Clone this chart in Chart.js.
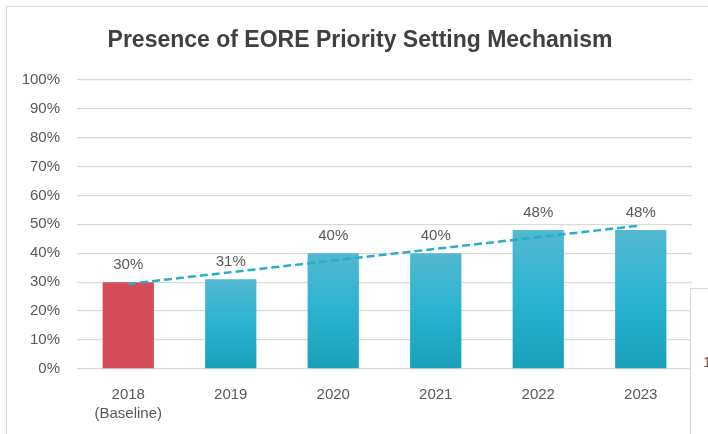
<!DOCTYPE html>
<html>
<head>
<meta charset="utf-8">
<script src="https://cdn.jsdelivr.net/npm/chart.js@4.4.1/dist/chart.umd.min.js"></script>
<style>
  html, body { margin: 0; padding: 0; background: #ffffff; overflow: hidden; width: 708px; height: 434px; }
  #frame { position: absolute; left: 6px; top: 6px; width: 800px; height: 600px; border: 1.5px solid #d9d9d9; box-sizing: border-box; }
  #wrap { position: absolute; left: 0; top: 0; width: 720px; height: 434px; }
  #side { position: absolute; left: 690px; top: 288px; width: 100px; height: 200px; border: 1.5px solid #d9d9d9; background: #fff; box-sizing: border-box; font: 15px "Liberation Sans", Arial, sans-serif; color: #595959; }
  #side span { position: absolute; left: 12px; top: 64px; }
</style>
</head>
<body>
<div id="frame"></div>
<div id="wrap"><canvas id="c" width="720" height="434"></canvas></div>
<div id="side"><span>1</span></div>
<script>
const titleText = 'Presence of EORE Priority Setting Mechanism';
const categories = ['2018', '2019', '2020', '2021', '2022', '2023'];
const subLabels = ['(Baseline)', '', '', '', '', ''];
const values = [30, 31, 40, 40, 48, 48];
const trendValues = [29.4, null, null, null, null, 49.6];
const yTickValues = [0, 10, 20, 30, 40, 50, 60, 70, 80, 90, 100];

const labels = categories.map((c, i) => subLabels[i] ? [c, subLabels[i]] : c);

const RED = '#d44b5a';
function barColor(ctx) {
  const i = ctx.dataIndex;
  if (i === 0) return RED;
  const chart = ctx.chart;
  if (!chart.chartArea || !chart.scales.y) return '#29b2cf';
  const y = chart.scales.y;
  const top = y.getPixelForValue(values[i]);
  const bot = y.getPixelForValue(0);
  const g = chart.ctx.createLinearGradient(0, top, 0, bot);
  g.addColorStop(0, '#52b9d1');
  g.addColorStop(0.5, '#29b3d0');
  g.addColorStop(1, '#18a0ba');
  return g;
}

const labelPlugin = {
  id: 'barLabels',
  afterDatasetsDraw(chart) {
    const meta = chart.getDatasetMeta(0);
    const c = chart.ctx;
    c.save();
    c.font = '15px "Liberation Sans", Arial, sans-serif';
    c.fillStyle = '#595959';
    c.textAlign = 'center';
    c.textBaseline = 'middle';
    meta.data.forEach((bar, i) => {
      c.fillText(values[i] + '%', bar.x, bar.y - 17);
    });
    c.restore();
  }
};

new Chart(document.getElementById('c'), {
  type: 'bar',
  data: {
    labels: labels,
    datasets: [
      {
        type: 'bar',
        data: values,
        backgroundColor: barColor,
        barPercentage: 0.5,
        categoryPercentage: 1.0,
        order: 2
      },
      {
        type: 'line',
        data: trendValues,
        spanGaps: true,
        borderColor: '#2aaccb',
        borderWidth: 2.5,
        borderDash: [8, 4],
        pointRadius: 0,
        fill: false,
        order: 1
      }
    ]
  },
  options: {
    responsive: false,
    animation: false,
    layout: { padding: { left: 0, right: 0, top: 0, bottom: 0 } },
    plugins: {
      legend: { display: false },
      tooltip: { enabled: false },
      title: {
        display: true,
        text: titleText,
        color: '#404040',
        font: { family: '"Liberation Sans", Arial, sans-serif', size: 23, weight: 'bold', lineHeight: 1.2 },
        padding: { top: 27, bottom: 25 }
      }
    },
    scales: {
      x: {
        grid: { display: false },
        border: { display: false },
        ticks: {
          color: '#595959',
          font: { family: '"Liberation Sans", Arial, sans-serif', size: 15, lineHeight: 1.3 },
          padding: 8,
          maxRotation: 0
        },
        afterFit(s) { s.height = 65; }
      },
      y: {
        min: 0,
        max: 100,
        afterBuildTicks(s) { s.ticks = yTickValues.map(v => ({ value: v })); },
        grid: { color: '#d9d9d9', lineWidth: 1.3, drawTicks: false },
        border: { display: false },
        ticks: {
          color: '#595959',
          font: { family: '"Liberation Sans", Arial, sans-serif', size: 15 },
          padding: 17,
          callback: v => v + '%'
        },
        afterFit(s) { s.width = 77; }
      },
      yRight: {
        position: 'right',
        display: true,
        min: 0,
        max: 100,
        grid: { display: false, drawTicks: false },
        border: { display: false },
        ticks: { display: false },
        afterFit(s) { s.width = 28; }
      }
    }
  },
  plugins: [labelPlugin]
});
</script>
</body>
</html>
